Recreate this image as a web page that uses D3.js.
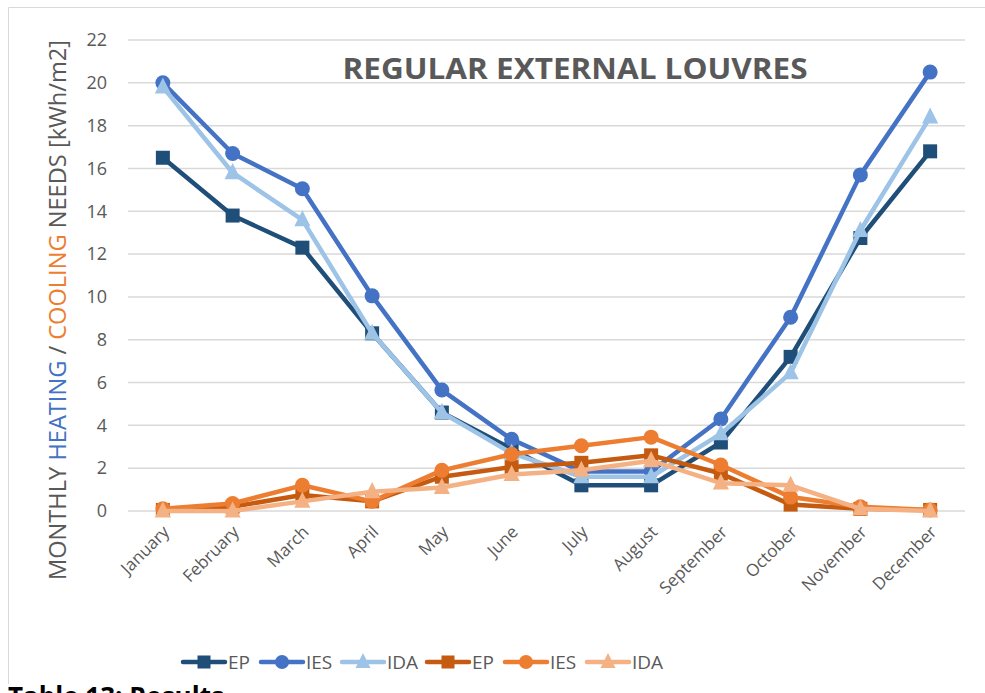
<!DOCTYPE html>
<html>
<head>
<meta charset="utf-8">
<script src="https://cdn.jsdelivr.net/npm/d3@7/dist/d3.min.js"></script>
<style>
  body { margin: 0; background: #fff; }
  svg { font-family: "Open Sans", "Liberation Sans", sans-serif; }
</style>
</head>
<body>
<div id="chart"></div>
<script>
// Months on the category axis
const months = ["January", "February", "March", "April", "May", "June",
  "July", "August", "September", "October", "November", "December"];

// Heating needs (kWh/m2)
const heatEP  = [16.5, 13.8, 12.3, 8.3, 4.6, 2.9, 1.2, 1.2, 3.2, 7.2, 12.75, 16.8];
const heatIES = [20.0, 16.7, 15.05, 10.05, 5.65, 3.35, 1.85, 1.85, 4.3, 9.05, 15.7, 20.5];
const heatIDA = [19.8, 15.8, 13.6, 8.3, 4.6, 2.7, 1.6, 1.6, 3.6, 6.45, 13.1, 18.4];

// Cooling needs (kWh/m2)
const coolEP  = [0.05, 0.2, 0.75, 0.45, 1.6, 2.05, 2.25, 2.6, 1.75, 0.3, 0.1, 0.05];
const coolIES = [0.1, 0.35, 1.2, 0.45, 1.9, 2.65, 3.05, 3.45, 2.15, 0.65, 0.2, 0.05];
const coolIDA = [0.0, 0.0, 0.45, 0.9, 1.1, 1.7, 1.9, 2.35, 1.3, 1.2, 0.1, 0.0];

const yTicks = [0, 2, 4, 6, 8, 10, 12, 14, 16, 18, 20, 22];

const series = [
  { name: "EP",  values: heatEP,  color: "#1F4E79", marker: "square" },
  { name: "IES", values: heatIES, color: "#4472C4", marker: "circle" },
  { name: "IDA", values: heatIDA, color: "#9DC3E6", marker: "triangle" },
  { name: "EP",  values: coolEP,  color: "#C55A11", marker: "square" },
  { name: "IES", values: coolIES, color: "#ED7D31", marker: "circle" },
  { name: "IDA", values: coolIDA, color: "#F4B183", marker: "triangle" }
];

const width = 985, height = 693;
const plot = { left: 128, right: 965, top: 40, bottom: 511 };

const svg = d3.select("#chart").append("svg")
  .attr("width", width)
  .attr("height", height);

// chart frame (only left/top edges are visible in the picture)
svg.append("path")
  .attr("d", "M8.5,684 V7.5 H985")
  .attr("fill", "none")
  .attr("stroke", "#D9D9D9")
  .attr("stroke-width", 1);

const x = d3.scalePoint()
  .domain(months)
  .range([plot.left, plot.right])
  .padding(0.5);

const y = d3.scaleLinear()
  .domain([0, 22])
  .range([plot.bottom, plot.top]);

// gridlines
svg.append("g")
  .selectAll("line")
  .data(yTicks)
  .join("line")
  .attr("x1", plot.left)
  .attr("x2", plot.right)
  .attr("y1", d => y(d))
  .attr("y2", d => y(d))
  .attr("stroke", "#D9D9D9")
  .attr("stroke-width", 1.5);

// y axis labels
const yAxis = svg.append("g")
  .attr("transform", `translate(${plot.left},0)`)
  .call(d3.axisLeft(y).tickValues(yTicks).tickSize(0).tickPadding(21));
yAxis.select(".domain").remove();
yAxis.selectAll("text")
  .attr("fill", "#595959")
  .style("font-size", "18px")
  .style("font-family", "'Open Sans', sans-serif");

// x axis labels
const xAxis = svg.append("g")
  .attr("transform", `translate(0,${plot.bottom})`)
  .call(d3.axisBottom(x).tickSize(0));
xAxis.select(".domain").remove();
xAxis.selectAll("text")
  .attr("fill", "#595959")
  .style("font-size", "17px")
  .style("font-family", "'Open Sans', sans-serif")
  .attr("text-anchor", "end")
  .attr("dy", null)
  .attr("y", 0)
  .attr("transform", "translate(7,22) rotate(-45)");

// lines
const line = d3.line()
  .x((d, i) => x(months[i]))
  .y(d => y(d));

function drawMarker(g, type, color, size) {
  if (type === "square") {
    g.append("rect")
      .attr("x", -size / 2).attr("y", -size / 2)
      .attr("width", size).attr("height", size)
      .attr("fill", color);
  } else if (type === "circle") {
    g.append("circle").attr("r", size / 2 + 0.5).attr("fill", color);
  } else {
    const s = size * 1.15;
    g.append("path")
      .attr("d", `M0,${-s * 0.6} L${s / 2},${s * 0.4} L${-s / 2},${s * 0.4} Z`)
      .attr("fill", color);
  }
}

series.forEach(s => {
  svg.append("path")
    .datum(s.values)
    .attr("d", line)
    .attr("fill", "none")
    .attr("stroke", s.color)
    .attr("stroke-width", 4.5)
    .attr("stroke-linejoin", "round");

  s.values.forEach((v, i) => {
    const g = svg.append("g")
      .attr("transform", `translate(${x(months[i])},${y(v)})`);
    drawMarker(g, s.marker, s.color, 14);
  });
});

// title
svg.append("text")
  .attr("x", 575)
  .attr("y", 79)
  .attr("text-anchor", "middle")
  .attr("fill", "#595959")
  .style("font-size", "28px")
  .style("font-weight", "bold")
  .attr("textLength", 465)
  .attr("lengthAdjust", "spacingAndGlyphs")
  .text("REGULAR EXTERNAL LOUVRES");

// y axis title with coloured words
const yTitle = svg.append("text")
  .attr("transform", "translate(66,310) rotate(-90)")
  .attr("text-anchor", "middle")
  .style("font-size", "23px")
  .attr("textLength", 540)
  .attr("lengthAdjust", "spacingAndGlyphs")
  .attr("fill", "#595959");
yTitle.append("tspan").text("MONTHLY ");
yTitle.append("tspan").attr("fill", "#4472C4").text("HEATING");
yTitle.append("tspan").text(" / ");
yTitle.append("tspan").attr("fill", "#ED7D31").text("COOLING");
yTitle.append("tspan").text(" NEEDS [kWh/m2]");

// legend
const legendX = [183, 261, 342, 427, 505, 587];
const legend = svg.append("g");
series.forEach((s, i) => {
  const g = legend.append("g")
    .attr("transform", `translate(${legendX[i]},662)`);
  g.append("line")
    .attr("x1", 0).attr("x2", 42)
    .attr("stroke", s.color)
    .attr("stroke-width", 4.5)
    .attr("stroke-linecap", "round");
  const m = g.append("g").attr("transform", "translate(21,0)");
  drawMarker(m, s.marker, s.color, 13);
  g.append("text")
    .attr("x", 45)
    .attr("y", 7)
    .attr("fill", "#595959")
    .style("font-size", "19px")
    .text(s.name);
});

// caption below the chart (cut off by the page edge)
svg.append("text")
  .attr("x", 8)
  .attr("y", 706)
  .attr("fill", "#000")
  .style("font-size", "26px")
  .style("font-weight", "bold")
  .text("Table 13: Results");
</script>
</body>
</html>
